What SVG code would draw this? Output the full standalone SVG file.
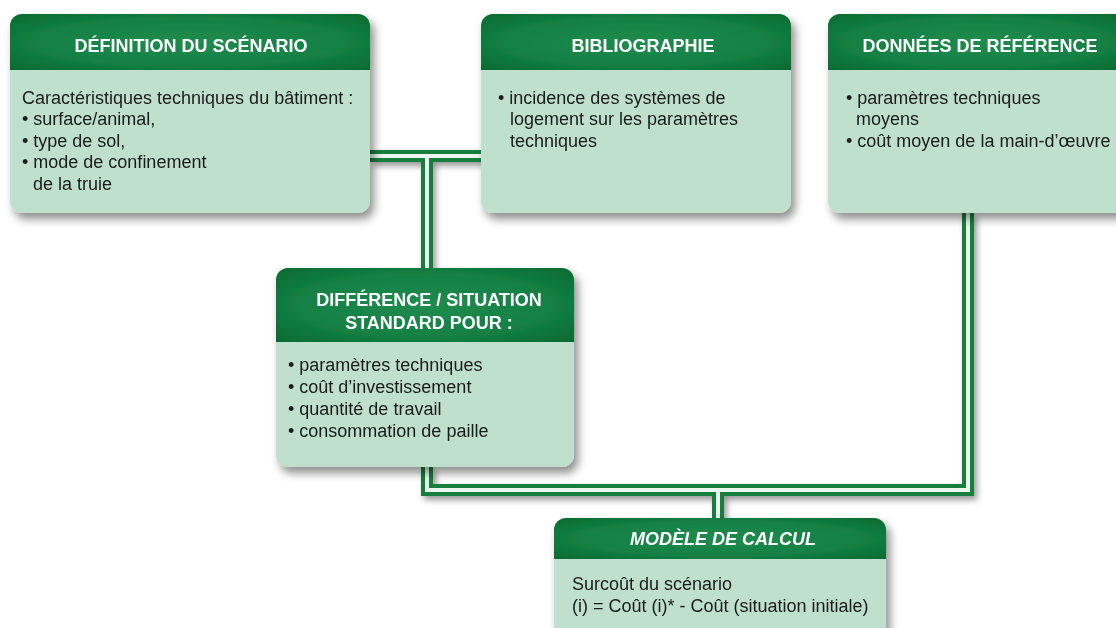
<svg xmlns="http://www.w3.org/2000/svg" width="1116" height="628" viewBox="0 0 1116 628">
<defs>
<radialGradient id="hdr" cx="0.5" cy="0.5" r="0.7" fx="0.5" fy="0.5" gradientTransform="translate(0,0)">
<stop offset="0" stop-color="#1f8c4e"/>
<stop offset="0.6" stop-color="#148044"/>
<stop offset="1" stop-color="#066a30"/>
</radialGradient>
<filter id="sh" x="-10%" y="-10%" width="125%" height="130%">
<feGaussianBlur in="SourceAlpha" stdDeviation="5"/>
<feOffset dx="4" dy="6" result="b"/>
<feComponentTransfer><feFuncA type="linear" slope="0.45"/></feComponentTransfer>
<feMerge><feMergeNode/><feMergeNode in="SourceGraphic"/></feMerge>
</filter>
<filter id="lsh" x="-10%" y="-10%" width="130%" height="130%">
<feGaussianBlur in="SourceAlpha" stdDeviation="3"/>
<feOffset dx="3" dy="4"/>
<feComponentTransfer><feFuncA type="linear" slope="0.4"/></feComponentTransfer>
<feMerge><feMergeNode/><feMergeNode in="SourceGraphic"/></feMerge>
</filter>
</defs>
<style>
.body{fill:#bfe0cc}
.hd{fill:url(#hdr)}
.ht{font-family:"Liberation Sans",Arial,sans-serif;font-weight:bold;font-size:18px;fill:#fff;text-anchor:middle}
.bt{font-family:"Liberation Sans",Arial,sans-serif;font-size:18px;fill:#1a1a1a}
.outer{fill:none;stroke:#177f3e;stroke-width:12;stroke-linejoin:miter}
.inner{fill:none;stroke:#eaf6ee;stroke-width:4;stroke-linejoin:miter}
</style>
<rect width="1116" height="628" fill="#fff"/>
<g id="connectors" filter="url(#lsh)">
<path class="outer" d="M370 156 H481 M427 156 V268 M427 467 V490 H968 V213 M718 490 V518"/>
<path class="inner" d="M370 156 H481 M427 156 V268 M427 467 V490 H968 V213 M718 490 V518"/>
</g>
<g id="node-definition" filter="url(#sh)">
<rect class="body" x="10" y="14" width="360" height="199" rx="12"/>
<path class="hd" d="M10 70 V26 A12 12 0 0 1 22 14 H358 A12 12 0 0 1 370 26 V70 Z"/>
<text class="ht" x="191" y="52">DÉFINITION DU SCÉNARIO</text>
<text class="bt" x="22" y="104">Caractéristiques techniques du bâtiment :</text>
<text class="bt" x="22" y="125">• surface/animal,</text>
<text class="bt" x="22" y="147">• type de sol,</text>
<text class="bt" x="22" y="168">• mode de confinement</text>
<text class="bt" x="33" y="190">de la truie</text>
</g>
<g id="node-bibliographie" filter="url(#sh)">
<rect class="body" x="481" y="14" width="310" height="199" rx="12"/>
<path class="hd" d="M481 70 V26 A12 12 0 0 1 493 14 H779 A12 12 0 0 1 791 26 V70 Z"/>
<text class="ht" x="643" y="52">BIBLIOGRAPHIE</text>
<text class="bt" x="498" y="104">• incidence des systèmes de</text>
<text class="bt" x="510" y="125">logement sur les paramètres</text>
<text class="bt" x="510" y="147">techniques</text>
</g>
<g id="node-donnees" filter="url(#sh)">
<rect class="body" x="828" y="14" width="300" height="199" rx="12"/>
<path class="hd" d="M828 70 V26 A12 12 0 0 1 840 14 H1128 V70 Z"/>
<text class="ht" x="980" y="52">DONNÉES DE RÉFÉRENCE</text>
<text class="bt" x="846" y="104">• paramètres techniques</text>
<text class="bt" x="856" y="125">moyens</text>
<text class="bt" x="846" y="147">• coût moyen de la main-d’œuvre</text>
</g>
<g id="node-difference" filter="url(#sh)">
<rect class="body" x="276" y="268" width="298" height="199" rx="12"/>
<path class="hd" d="M276 342 V280 A12 12 0 0 1 288 268 H562 A12 12 0 0 1 574 280 V342 Z"/>
<text class="ht" x="429" y="306">DIFFÉRENCE / SITUATION</text>
<text class="ht" x="429" y="329">STANDARD POUR :</text>
<text class="bt" x="288" y="371">• paramètres techniques</text>
<text class="bt" x="288" y="393">• coût d’investissement</text>
<text class="bt" x="288" y="415">• quantité de travail</text>
<text class="bt" x="288" y="437">• consommation de paille</text>
</g>
<g id="node-modele" filter="url(#sh)">
<rect class="body" x="554" y="518" width="332" height="125" rx="12"/>
<path class="hd" d="M554 559 V530 A12 12 0 0 1 566 518 H874 A12 12 0 0 1 886 530 V559 Z"/>
<text class="ht" x="723" y="545" font-style="italic">MODÈLE DE CALCUL</text>
<text class="bt" x="572" y="590">Surcoût du scénario</text>
<text class="bt" x="572" y="612">(i) = Coût (i)* - Coût (situation initiale)</text>
</g>
</svg>
